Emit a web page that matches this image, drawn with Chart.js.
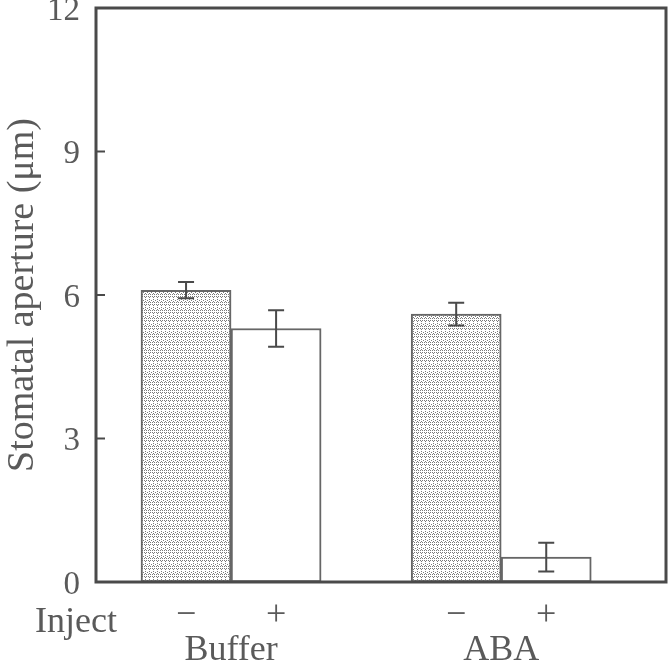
<!DOCTYPE html>
<html>
<head>
<meta charset="utf-8">
<script src="https://cdn.jsdelivr.net/npm/chart.js@4.4.1/dist/chart.umd.min.js"></script>
<style>
html,body{margin:0;padding:0;background:#fff;}
#wrap{width:668px;height:662px;}
</style>
</head>
<body>
<div id="wrap"><canvas id="apertureChart" width="668" height="662"></canvas></div>
<script>
// data
const groups = ["Buffer", "ABA"];
const groupPos = [1.5, 4.5];
const injectMarks = ["\u2212", "+"];
const xPos = [1, 2, 4, 5];
const aperture = [6.1, 5.3, 5.6, 0.52];
const apertureErr = [0.17, 0.38, 0.24, 0.3];
const yTicks = [0, 3, 6, 9, 12];

const ink = "#4a4a4a";
const textInk = "#5a5a5a";
const serif = "'Liberation Serif', 'DejaVu Serif', serif";

// stipple fill for the "-" bars
function stipple() {
  const c = document.createElement("canvas");
  c.width = 8; c.height = 8;
  const g = c.getContext("2d");
  g.fillStyle = "#fff";
  g.fillRect(0, 0, 8, 8);
  g.fillStyle = "#7a7a7a";
  [[0,0],[1,1],[2,0],[4,0],[5,1],[6,0],[1,3],[3,4],[5,3],[7,4],[0,6],[1,5],[2,6],[4,6],[5,5],[6,6]].forEach(function(p){
    g.fillRect(p[0], p[1], 1, 1);
  });
  return g.createPattern(c, "repeat");
}
const dots = stipple();

const framePlugin = {
  id: "frame",
  afterDatasetsDraw(chart) {
    const ctx = chart.ctx;
    const a = chart.chartArea;
    const x = chart.scales.x;
    const y = chart.scales.y;
    ctx.save();
    // error bars
    ctx.strokeStyle = ink;
    ctx.lineWidth = 2;
    for (let i = 0; i < aperture.length; i++) {
      const px = x.getPixelForValue(xPos[i]);
      const top = y.getPixelForValue(aperture[i] + apertureErr[i]);
      const bot = y.getPixelForValue(aperture[i] - apertureErr[i]);
      ctx.beginPath();
      ctx.moveTo(px, top); ctx.lineTo(px, bot);
      ctx.moveTo(px - 8, top); ctx.lineTo(px + 8, top);
      ctx.moveTo(px - 8, bot); ctx.lineTo(px + 8, bot);
      ctx.stroke();
    }
    // frame
    ctx.lineWidth = 3;
    ctx.strokeRect(a.left, a.top, a.right - a.left, a.bottom - a.top);
    // inward y ticks
    ctx.lineWidth = 2;
    yTicks.forEach(function(v){
      const py = y.getPixelForValue(v);
      ctx.beginPath();
      ctx.moveTo(a.left, py); ctx.lineTo(a.left + 9, py);
      ctx.stroke();
    });
    // Inject and group labels
    ctx.fillStyle = textInk;
    ctx.font = "36px " + serif;
    ctx.textBaseline = "alphabetic";
    ctx.textAlign = "left";
    ctx.fillText("Inject", 35, 632);
    ctx.textAlign = "center";
    groups.forEach(function(g, i){
      ctx.fillText(g, x.getPixelForValue(groupPos[i]), 660);
    });
    ctx.restore();
  }
};

new Chart(
document.getElementById("apertureChart"),
{
type: "bar",
data: {
  datasets: [{
    data: xPos.map(function(v, i){ return {x: v, y: aperture[i]}; }),
    backgroundColor: [dots, "#fff", dots, "#fff"],
    borderColor: "#666",
    borderWidth: 2,
    borderSkipped: false,
    barPercentage: 1,
    categoryPercentage: 1
  }]
},
options: {
  responsive: false,
  animation: false,
  layout: {padding: {left: 0, right: 2, top: 8, bottom: 0}},
  plugins: {legend: {display: false}, tooltip: {enabled: false}},
  scales: {
    x: {
      type: "linear",
      min: 0,
      max: 6.33,
      offset: false,
      grid: {display: false},
      border: {display: false},
      afterBuildTicks(scale) {
        scale.ticks = xPos.map(function(v){ return {value: v}; });
      },
      afterFit(scale) { scale.height = 80; },
      ticks: {
        color: textInk,
        font: {family: serif, size: 36},
        padding: 4,
        maxRotation: 0,
        autoSkip: false,
        callback(v) {
          const i = xPos.indexOf(v);
          return i < 0 ? "" : injectMarks[i % 2];
        }
      }
    },
    y: {
      min: 0,
      max: 12,
      grid: {display: false, drawTicks: false},
      border: {display: false},
      afterFit(scale) {
        scale.width = 96;
        scale.paddingTop = 0;
        scale.paddingBottom = 0;
      },
      ticks: {
        stepSize: 3,
        color: textInk,
        font: {family: serif, size: 33},
        padding: 16,
        labelOffset: 3
      },
      title: {
        display: true,
        text: "Stomatal aperture (\u03bcm)",
        color: textInk,
        font: {family: serif, size: 38},
        padding: {top: 0, bottom: 0}
      }
    }
  }
},
plugins: [framePlugin]
}
);
</script>
</body>
</html>
